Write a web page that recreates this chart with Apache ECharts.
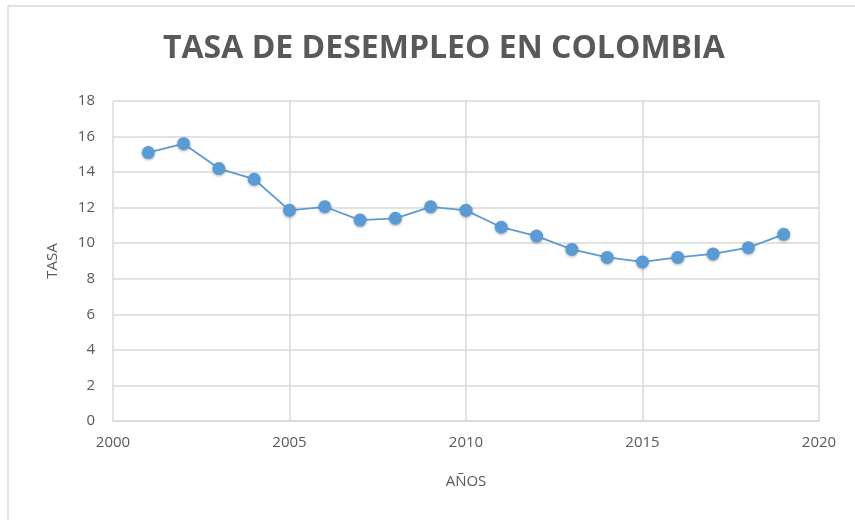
<!DOCTYPE html>
<html>
<head>
<meta charset="utf-8">
<script src="https://cdn.jsdelivr.net/npm/echarts@6/dist/echarts.min.js"></script>
<style>
  html, body { margin: 0; padding: 0; background: #fff; }
  #chart { width: 855px; height: 520px; }
</style>
</head>
<body>
<div id="chart"></div>
<script>
  // años y tasa de desempleo (%)
  const years = [2001, 2002, 2003, 2004, 2005, 2006, 2007, 2008, 2009, 2010,
                 2011, 2012, 2013, 2014, 2015, 2016, 2017, 2018, 2019];
  const tasa = [15.1, 15.6, 14.2, 13.6, 11.85, 12.05, 11.3, 11.4, 12.05, 11.85,
                10.9, 10.4, 9.65, 9.2, 8.95, 9.2, 9.4, 9.75, 10.5];
  const titleText = 'TASA DE DESEMPLEO EN COLOMBIA';
  const xName = 'AÑOS';
  const yName = 'TASA';

  const textColor = '#595959';
  const gridColor = '#d9d9d9';
  const lineColor = '#5b9bd5';

  const points = years.map((y, i) => [y, tasa[i]]);

  const option = {
    backgroundColor: '#fff',
    animation: false,
    title: {
      text: titleText,
      left: 158,
      top: 28,
      textStyle: {
        color: textColor,
        fontFamily: 'Open Sans',
        fontWeight: 'bold',
        fontSize: 32
      }
    },
    graphic: [{
      type: 'rect',
      shape: { x: 8, y: 6, width: 900, height: 600 },
      style: { fill: 'none', stroke: '#d9d9d9', lineWidth: 1.5 },
      silent: true
    }],
    grid: {
      left: 113,
      right: 36,
      top: 101,
      bottom: 99
    },
    xAxis: {
      type: 'value',
      min: 2000,
      max: 2020,
      interval: 5,
      name: xName,
      nameLocation: 'middle',
      nameGap: 53,
      nameTextStyle: { color: textColor, fontFamily: 'Open Sans', fontSize: 15 },
      axisLine: { show: true, lineStyle: { color: gridColor, width: 1.5 } },
      axisTick: { show: false },
      splitLine: { show: true, lineStyle: { color: gridColor, width: 1.5 } },
      axisLabel: {
        color: textColor, fontFamily: 'Open Sans', fontSize: 15, margin: 14,
        formatter: v => String(v)
      }
    },
    yAxis: {
      type: 'value',
      min: 0,
      max: 18,
      interval: 2,
      name: yName,
      nameLocation: 'middle',
      nameGap: 53,
      nameRotate: 90,
      nameTextStyle: { color: textColor, fontFamily: 'Open Sans', fontSize: 15 },
      axisLine: { show: false },
      axisTick: { show: false },
      splitLine: { show: true, lineStyle: { color: gridColor, width: 1.5 } },
      axisLabel: { color: textColor, fontFamily: 'Open Sans', fontSize: 15, margin: 18 }
    },
    series: [{
      type: 'line',
      data: points,
      symbol: 'circle',
      symbolSize: 13,
      itemStyle: {
        color: lineColor,
        shadowColor: 'rgba(0,0,0,0.3)',
        shadowBlur: 3,
        shadowOffsetY: 1
      },
      lineStyle: { color: lineColor, width: 1.8 }
    }]
  };

  const chartObj = echarts.init(document.getElementById('chart'), null, { renderer: 'canvas' });
  chartObj.setOption(option);
</script>
</body>
</html>
